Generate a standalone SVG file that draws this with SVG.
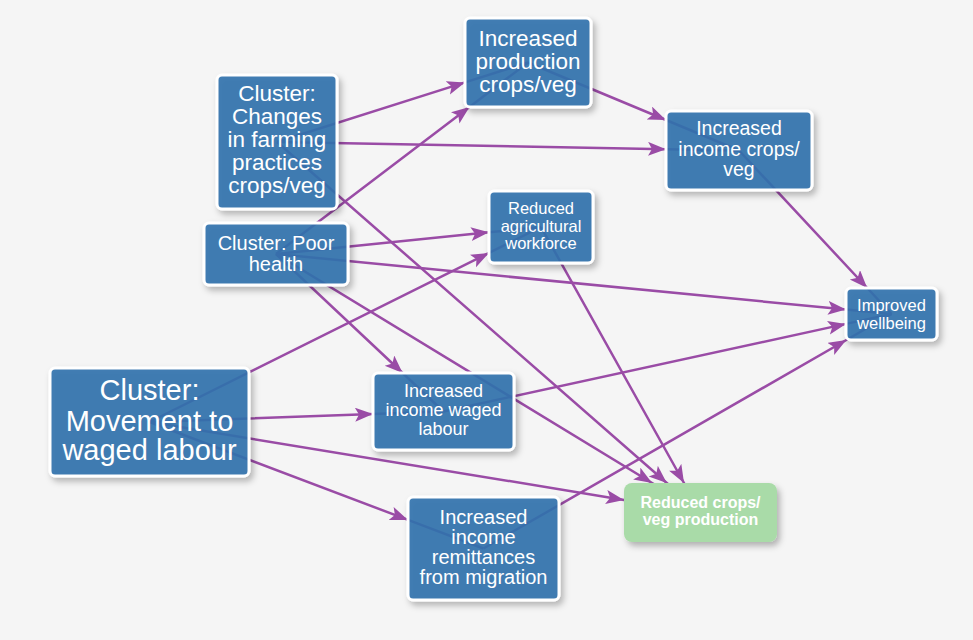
<svg xmlns="http://www.w3.org/2000/svg" width="973" height="640" viewBox="0 0 973 640">
<defs>
<filter id="sh" x="-20%" y="-20%" width="150%" height="150%">
<feDropShadow dx="3" dy="4" stdDeviation="3" flood-color="#000" flood-opacity="0.28"/>
</filter>
<marker id="ah" markerUnits="userSpaceOnUse" markerWidth="20" markerHeight="16" refX="18" refY="7" orient="auto">
<path d="M0,0 L18,7 L0,14 L4,7 z" fill="#9a4ca6"/>
</marker>
<style>
.e{fill:none;stroke:#9a4ca6;stroke-width:2.5;marker-mid:url(#ah)}
.n rect{fill:#3272ae;fill-opacity:0.9;stroke:#fff;stroke-width:3;filter:url(#sh)}
.g rect{fill:#a9dba8;filter:url(#sh)}
text{font-family:"Liberation Sans",Arial,sans-serif;fill:#fff;text-anchor:middle}
</style>
</defs>
<rect width="973" height="640" fill="#f5f5f5"/>
<g id="connectors">
<path class="e" d="M277,142 L465,82.4 L528,62.5"/>
<path class="e" d="M277,142 L666,149.2 L739,150.5"/>
<path class="e" d="M277,142 L666.8,483 L700.5,512.5"/>
<path class="e" d="M276,254 L469.5,107 L528,62.5"/>
<path class="e" d="M276,254 L489,232.3 L541,227"/>
<path class="e" d="M276,254 L846,309.6 L891.5,314"/>
<path class="e" d="M276,254 L402.6,373 L443.5,411.5"/>
<path class="e" d="M276,254 L652.1,483 L700.5,512.5"/>
<path class="e" d="M149.5,422 L489,252.9 L541,227"/>
<path class="e" d="M149.5,422 L373,414 L443.5,411.5"/>
<path class="e" d="M149.5,422 L624,499.9 L700.5,512.5"/>
<path class="e" d="M149.5,422 L408,519.9 L483.5,548.5"/>
<path class="e" d="M483.5,548.5 L846.3,340 L891.5,314"/>
<path class="e" d="M528,62.5 L666,120 L739,150.5"/>
<path class="e" d="M739,150.5 L867.2,288 L891.5,314"/>
<path class="e" d="M541,227 L684,483 L700.5,512.5"/>
<path class="e" d="M443.5,411.5 L846,323.9 L891.5,314"/>
</g>
<g id="nodeA" class="n">
<rect x="217" y="75" width="120" height="134" rx="5"/>
<text font-size="22.5"><tspan x="277" y="101">Cluster:</tspan><tspan x="277" y="124">Changes</tspan><tspan x="277" y="147">in farming</tspan><tspan x="277" y="170">practices</tspan><tspan x="277" y="193">crops/veg</tspan></text>
</g>
<g id="nodeB" class="n">
<rect x="204" y="223" width="144" height="62" rx="5"/>
<text font-size="20"><tspan x="276" y="250">Cluster: Poor</tspan><tspan x="276" y="271">health</tspan></text>
</g>
<g id="nodeC" class="n">
<rect x="50" y="368" width="199" height="108" rx="5"/>
<text font-size="29"><tspan x="149.5" y="400">Cluster:</tspan><tspan x="149.5" y="431">Movement to</tspan><tspan x="149.5" y="460">waged labour</tspan></text>
</g>
<g id="nodeD" class="n">
<rect x="465" y="18" width="126" height="89" rx="5"/>
<text font-size="22.5"><tspan x="528" y="46">Increased</tspan><tspan x="528" y="69">production</tspan><tspan x="528" y="92">crops/veg</tspan></text>
</g>
<g id="nodeE" class="n">
<rect x="666" y="111" width="146" height="79" rx="5"/>
<text font-size="19.5"><tspan x="739" y="135">Increased</tspan><tspan x="739" y="156">income crops/</tspan><tspan x="739" y="176">veg</tspan></text>
</g>
<g id="nodeF" class="n">
<rect x="489" y="191" width="104" height="72" rx="5"/>
<text font-size="16.5"><tspan x="541" y="214">Reduced</tspan><tspan x="541" y="232">agricultural</tspan><tspan x="541" y="249">workforce</tspan></text>
</g>
<g id="nodeG" class="n">
<rect x="846" y="288" width="91" height="52" rx="5"/>
<text font-size="16.5"><tspan x="891.5" y="311">Improved</tspan><tspan x="891.5" y="329">wellbeing</tspan></text>
</g>
<g id="nodeH" class="n">
<rect x="373" y="373" width="141" height="77" rx="5"/>
<text font-size="18"><tspan x="443.5" y="397">Increased</tspan><tspan x="443.5" y="416">income waged</tspan><tspan x="443.5" y="435">labour</tspan></text>
</g>
<g id="nodeI" class="n">
<rect x="408" y="497" width="151" height="103" rx="5"/>
<text font-size="20"><tspan x="483.5" y="524">Increased</tspan><tspan x="483.5" y="544">income</tspan><tspan x="483.5" y="564">remittances</tspan><tspan x="483.5" y="584">from migration</tspan></text>
</g>
<g id="nodeJ" class="g">
<rect x="624" y="483" width="153" height="59" rx="8"/>
<text font-size="16" font-weight="bold"><tspan x="700.5" y="508">Reduced crops/</tspan><tspan x="700.5" y="525">veg production</tspan></text>
</g>
</svg>
